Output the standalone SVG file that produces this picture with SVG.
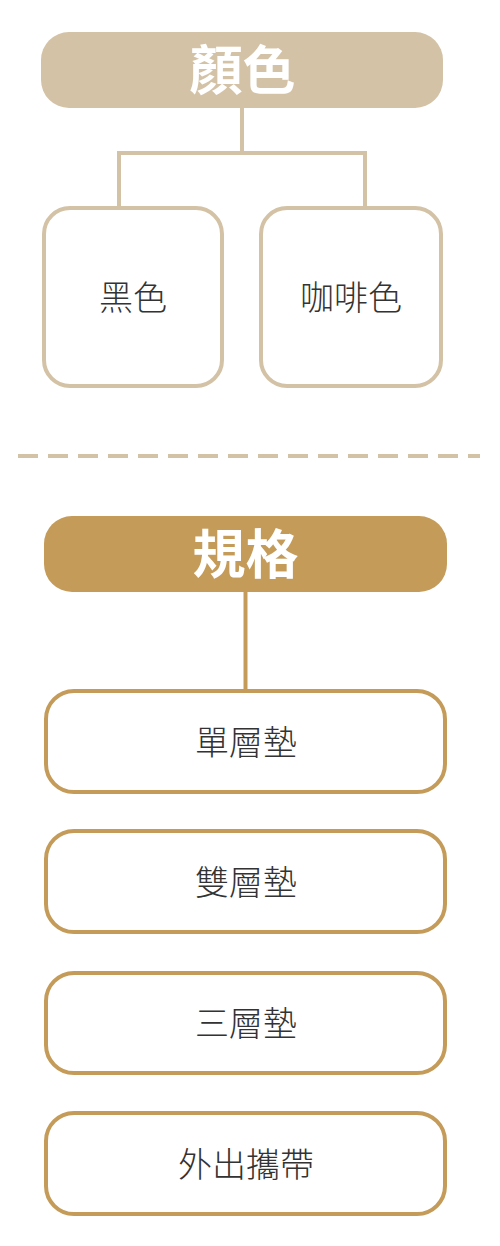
<svg xmlns="http://www.w3.org/2000/svg" width="500" height="1246" viewBox="0 0 500 1246">
<style>
.hdr1{fill:#D3C2A5}
.hdr2{fill:#C49B59}
.ht{font-family:"Noto Sans CJK TC","Noto Sans CJK SC",sans-serif;font-weight:bold;font-size:53px;fill:#FFFFFF;text-anchor:middle}
.box1{fill:#FFFFFF;stroke:#D3C2A5;stroke-width:4}
.box2{fill:#FFFFFF;stroke:#C49B59;stroke-width:4}
.t{font-family:"Noto Sans CJK TC","Noto Sans CJK SC",sans-serif;font-weight:300;font-size:34px;fill:#333333;text-anchor:middle}
.c1{fill:none;stroke:#D3C2A5;stroke-width:4}
.c2{fill:none;stroke:#C49B59;stroke-width:4}
</style>
<rect width="500" height="1246" fill="#FFFFFF"/>
<g id="connectors">
<path class="c1" d="M242 107 V153 M119 208 V153 H365 V208"/>
<path class="c2" d="M245.5 591 V691"/>
</g>
<line x1="18" y1="456" x2="480" y2="456" stroke="#D3C2A5" stroke-width="4" stroke-dasharray="20 10"/>
<g id="color-header">
<rect class="hdr1" x="41" y="32" width="402" height="76" rx="28"/>
<text class="ht" x="242.5" y="90">顏色</text>
</g>
<g id="black">
<rect class="box1" x="44" y="208" width="178" height="178" rx="26"/>
<text class="t" x="133" y="310">黑色</text>
</g>
<g id="coffee">
<rect class="box1" x="261" y="208" width="180" height="178" rx="26"/>
<text class="t" x="351" y="310">咖啡色</text>
</g>
<g id="spec-header">
<rect class="hdr2" x="44" y="516" width="403" height="76" rx="28"/>
<text class="ht" x="245.5" y="574">規格</text>
</g>
<g id="single">
<rect class="box2" x="46" y="691" width="399" height="101" rx="28"/>
<text class="t" x="246" y="755">單層墊</text>
</g>
<g id="double">
<rect class="box2" x="46" y="831" width="399" height="101" rx="28"/>
<text class="t" x="246" y="895">雙層墊</text>
</g>
<g id="triple">
<rect class="box2" x="46" y="973" width="399" height="100" rx="28"/>
<text class="t" x="246" y="1036">三層墊</text>
</g>
<g id="portable">
<rect class="box2" x="46" y="1113" width="399" height="101" rx="28"/>
<text class="t" x="246" y="1177">外出攜帶</text>
</g>
</svg>
